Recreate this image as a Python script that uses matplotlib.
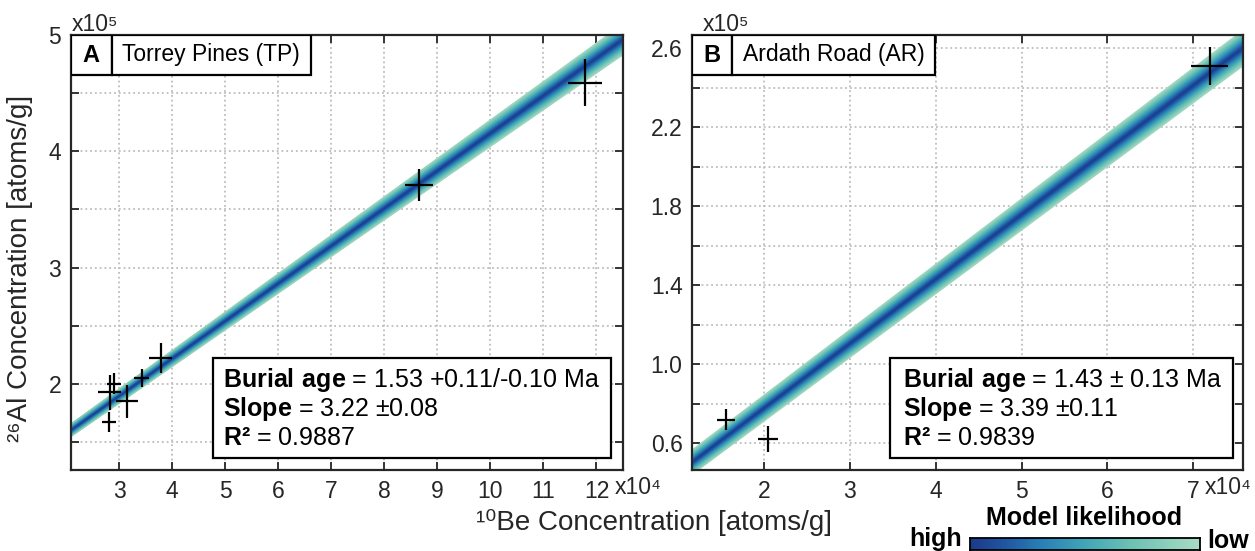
import numpy as np
import matplotlib
matplotlib.use('Agg')
import matplotlib.pyplot as plt
from matplotlib.patches import Rectangle
from matplotlib.colors import LinearSegmentedColormap
import matplotlib.transforms as mtransforms

plt.rcParams['font.family'] = ['Liberation Sans', 'DejaVu Sans']
plt.rcParams['mathtext.fontset'] = 'custom'
plt.rcParams['mathtext.rm'] = 'Liberation Sans'
plt.rcParams['mathtext.bf'] = 'Liberation Sans:bold'

# Torrey Pines (TP): 10Be in 1e4 atoms/g, 26Al in 1e5 atoms/g
tp_be = [2.82, 2.90, 2.81, 3.14, 3.42, 3.78, 8.65, 11.79]
tp_al = [1.93, 2.00, 1.67, 1.85, 2.05, 2.22, 3.71, 4.59]
tp_be_err = [0.22, 0.13, 0.13, 0.21, 0.15, 0.21, 0.27, 0.32]
tp_al_err = [0.15, 0.09, 0.085, 0.14, 0.075, 0.13, 0.14, 0.20]

# Ardath Road (AR)
ar_be = [1.56, 2.05, 7.19]
ar_al = [0.72, 0.62, 2.51]
ar_be_err = [0.107, 0.116, 0.21]
ar_al_err = [0.054, 0.066, 0.095]

# model line (slope in 1e5/1e4 units), intercept, band half width = a + b*x
tp_fit = dict(slope=0.3228, icpt=0.935, a=0.045, b=0.0075)
ar_fit = dict(slope=0.3266, icpt=0.129, a=0.060, b=0.0045)

tp_xticks = [3, 4, 5, 6, 7, 8, 9, 10, 11, 12]
tp_yticks = [1.5, 2.0, 2.5, 3.0, 3.5, 4.0, 4.5, 5.0]
tp_ylabels = ['', '2', '', '3', '', '4', '', '5']
ar_xticks = [2, 3, 4, 5, 6, 7]
ar_yticks = [0.6, 0.8, 1.0, 1.2, 1.4, 1.6, 1.8, 2.0, 2.2, 2.4, 2.6]
ar_ylabels = ['0.6', '', '1.0', '', '1.4', '', '1.8', '', '2.2', '', '2.6']

tp_stats = [r'$\mathbf{Burial\ age}$ = 1.53 +0.11/-0.10 Ma',
            r'$\mathbf{Slope}$ = 3.22 ±0.08',
            r'$\mathbf{R²}$ = 0.9887']
ar_stats = [r'$\mathbf{Burial\ age}$ = 1.43 ± 0.13 Ma',
            r'$\mathbf{Slope}$ = 3.39 ±0.11',
            r'$\mathbf{R²}$ = 0.9839']

band_cmap = LinearSegmentedColormap.from_list('band', [
    (0.0, '#1b3a8a'), (0.15, '#1f56a4'), (0.32, '#2a82b6'),
    (0.5, '#41a6b8'), (0.7, '#6cc2b4'), (1.0, '#a8dcc6')])

W, H = 1255, 551
fig = plt.figure(figsize=(W / 100, H / 100), dpi=100)
ax1 = fig.add_axes([71 / W, 81 / H, 552 / W, 435 / H])
ax2 = fig.add_axes([692.3 / W, 81 / H, 550.7 / W, 435 / H])

dark = '#262626'


def style_axes(ax, xlim, ylim, xticks, yticks, ylabels):
    ax.set_xlim(*xlim)
    ax.set_ylim(*ylim)
    ax.set_xticks(xticks)
    ax.set_xticklabels([str(t) for t in xticks])
    ax.set_yticks(yticks)
    ax.set_yticklabels(ylabels)
    ax.tick_params(direction='in', top=True, right=True, length=6, width=1.3,
                   labelsize=16.5, colors=dark, pad=7)
    for s in ax.spines.values():
        s.set_linewidth(1.6)
        s.set_color(dark)
    ax.grid(True, linestyle=':', color='#bdbdbd', lw=1.3)
    ax.set_axisbelow(True)


def draw_band(ax, xlim, fit):
    xs = np.linspace(xlim[0], xlim[1], 200)
    yc = fit['slope'] * xs + fit['icpt']
    hw = fit['a'] + fit['b'] * xs
    for t in np.linspace(1, 0.03, 45):
        ax.fill_between(xs, yc - t * hw, yc + t * hw, color=band_cmap(t),
                        lw=0, zorder=2)


def label_box(ax, letter, name, x1, x2):
    h = 40 / 435
    for (l, r) in [(0, x1), (x1, x2)]:
        ax.add_patch(Rectangle((l, 1 - h), r - l, h, transform=ax.transAxes,
                               fc='white', ec='black', lw=1.6, zorder=5))
    ax.text(x1 / 2, 1 - h / 2, letter, transform=ax.transAxes, ha='center',
            va='center', fontsize=17, fontweight='bold', zorder=6)
    ax.text((x1 + x2) / 2, 1 - h / 2, name, transform=ax.transAxes,
            ha='center', va='center', fontsize=16.5, zorder=6)


def stats_box(ax, lines, x0, x1, tx):
    ax.add_patch(Rectangle((x0, 0.0276), x1 - x0, 0.23, transform=ax.transAxes,
                           fc='white', ec='black', lw=1.6, zorder=5))
    for line, y in zip(lines, [0.207, 0.140, 0.0736]):
        ax.text(tx, y, line, transform=ax.transAxes, ha='left', va='center',
                fontsize=18, color='black', zorder=6)


# panel A
xlim1, ylim1 = (2.09, 12.5), (1.26, 5.0)
style_axes(ax1, xlim1, ylim1, tp_xticks, tp_yticks, tp_ylabels)
draw_band(ax1, xlim1, tp_fit)
ax1.errorbar(tp_be, tp_al, xerr=tp_be_err, yerr=tp_al_err, fmt='none',
             ecolor='black', elinewidth=1.6, capsize=0, zorder=4)
label_box(ax1, 'A', 'Torrey Pines (TP)', 0.0737, 0.4348)
stats_box(ax1, tp_stats, 0.257, 0.978, 0.275)

# panel B
xlim2, ylim2 = (1.165, 7.58), (0.465, 2.666)
style_axes(ax2, xlim2, ylim2, ar_xticks, ar_yticks, ar_ylabels)
draw_band(ax2, xlim2, ar_fit)
ax2.errorbar(ar_be, ar_al, xerr=ar_be_err, yerr=ar_al_err, fmt='none',
             ecolor='black', elinewidth=1.6, capsize=0, zorder=4)
label_box(ax2, 'B', 'Ardath Road (AR)', 0.072, 0.4407)
stats_box(ax2, ar_stats, 0.359, 0.982, 0.3826)

# exponent labels
ax1.text(0.002, 1.023, 'x10⁵', transform=ax1.transAxes, ha='left',
         va='center', fontsize=16.5, color=dark)
ax2.text(0.019, 1.023, 'x10⁵', transform=ax2.transAxes, ha='left',
         va='center', fontsize=16.5, color=dark)
tr1 = mtransforms.blended_transform_factory(ax1.transData, ax1.transAxes)
tr2 = mtransforms.blended_transform_factory(ax2.transData, ax2.transAxes)
ax1.text(12.35, -0.04, 'x10⁴', transform=tr1, ha='left', va='center',
         fontsize=16.5, color=dark)
ax2.text(7.136, -0.04, 'x10⁴', transform=tr2, ha='left', va='center',
         fontsize=16.5, color=dark)

# axis labels
fig.text(654 / W, 1 - 522 / H, '¹⁰Be Concentration [atoms/g]', ha='center',
         va='center', fontsize=20, color=dark)
fig.text(20 / W, 1 - 268 / H, '²⁶Al Concentration [atoms/g]', ha='center',
         va='center', rotation=90, fontsize=20, color=dark)

# likelihood colour bar
cax = fig.add_axes([970 / W, 1 / H, 230 / W, 12 / H])
cax.imshow(np.linspace(0, 1, 256)[None, :], aspect='auto', cmap=band_cmap)
cax.set_xticks([])
cax.set_yticks([])
for s in cax.spines.values():
    s.set_linewidth(1.3)
fig.text(1084 / W, 1 - 518 / H, 'Model likelihood', ha='center', va='center',
         fontsize=18, fontweight='bold')
fig.text(962 / W, 1 - 546 / H, 'high', ha='right', va='baseline',
         fontsize=18, fontweight='bold')
fig.text(1207 / W, 1 - 548 / H, 'low', ha='left', va='baseline',
         fontsize=18, fontweight='bold')

fig.savefig('out.png', dpi=100)
